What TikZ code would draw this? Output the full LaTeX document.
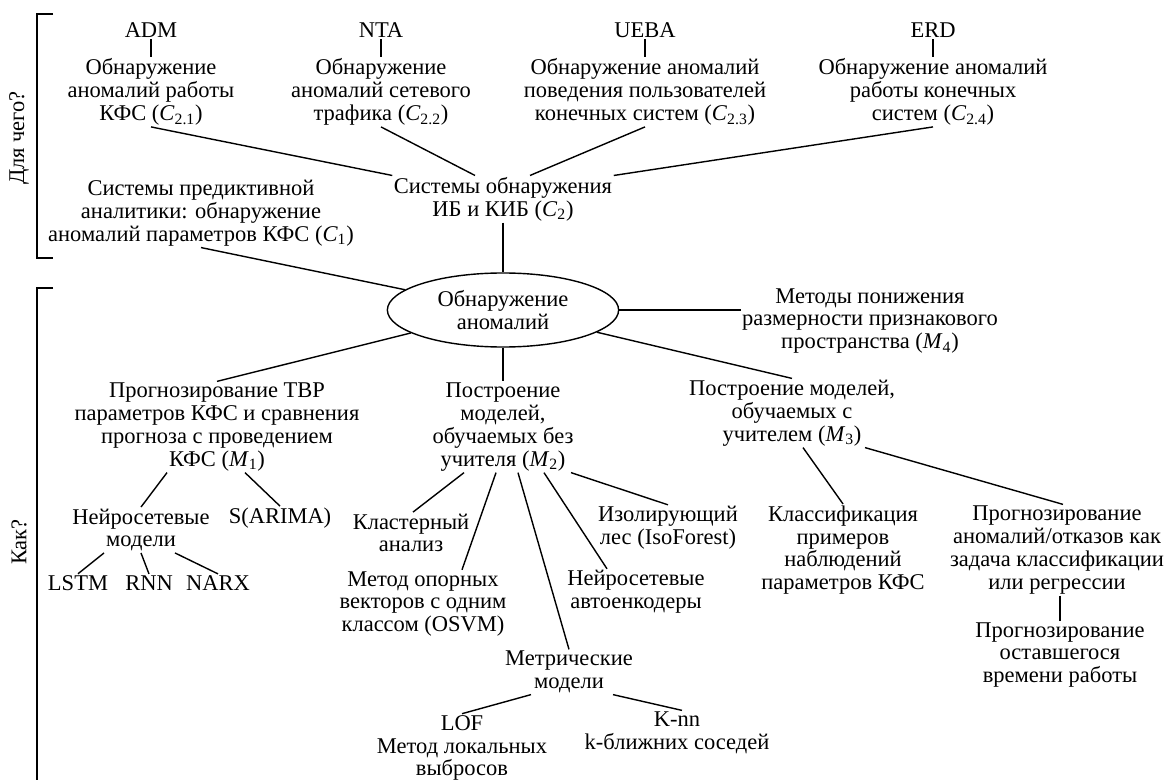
\documentclass[tikz,border=0pt]{standalone}
\usepackage{fontspec}
\setmainfont{Liberation Serif}
\usetikzlibrary{shapes.geometric,calc}
\tikzset{
  txt/.style={
    align=center,
    inner sep=1pt,
    font=\fontsize{16}{16.2}\selectfont,
  },
  hub/.style={
    txt,
    draw,
    ellipse,
    line width=1pt,
    minimum width=5.78cm,
    minimum height=1.85cm,
  },
  link/.style={
    line width=1pt,
  }
}
\newcommand{\cidx}[1]{\textit{C}\textsubscript{#1}}
\newcommand{\midx}[1]{\textit{M}\textsubscript{#1}}

\begin{document}
\begin{tikzpicture}[x=0.025cm,y=-0.025cm]
\useasboundingbox (0,0) rectangle (1168,780);

% brackets on the left
\draw[link] (53,14) -- (37,14) -- (37,258) -- (53,258);
\draw[link] (53,288) -- (37,288) -- (37,780);
\node[txt,rotate=90] (why) at (19,138) {Для чего?};
\node[txt,rotate=90] (how) at (19,542) {Как?};

% what for
\node[txt] (adm)  at (151,30) {ADM};
\node[txt] (nta)  at (381,30) {NTA};
\node[txt] (ueba) at (645,30) {UEBA};
\node[txt] (erd)  at (933,30) {ERD};
\node[txt] (c21) at (151,92) {Обнаружение\\аномалий работы\\КФС (\cidx{2.1})};
\node[txt] (c22) at (381,92) {Обнаружение\\аномалий сетевого\\трафика (\cidx{2.2})};
\node[txt] (c23) at (645,92) {Обнаружение аномалий\\поведения пользователей\\конечных систем (\cidx{2.3})};
\node[txt] (c24) at (933,92) {Обнаружение аномалий\\работы конечных\\систем (\cidx{2.4})};
\node[txt] (c2) at (503,199) {Системы обнаружения\\ИБ и КИБ (\cidx{2})};
\node[txt] (c1) at (201,213) {Системы предиктивной\\аналитики: обнаружение\\аномалий параметров КФС (\cidx{1})};

\node[hub] (anom) at (503,310) {Обнаружение\\аномалий};

% how
\node[txt] (m4) at (870,321) {Методы понижения\\размерности признакового\\пространства (\midx{4})};
\node[txt] (m1) at (217,427) {Прогнозирование ТВР\\параметров КФС и сравнения\\прогноза с проведением\\КФС (\midx{1})};
\node[txt] (m2) at (503,427) {Построение\\моделей,\\обучаемых без\\учителя (\midx{2})};
\node[txt] (m3) at (792,413) {Построение моделей,\\обучаемых с\\учителем (\midx{3})};

\node[txt] (neuro)  at (141,530) {Нейросетевые\\модели};
\node[txt] (sarima) at (280,518) {S(ARIMA)};
\node[txt] (lstm) at (78,583) {LSTM};
\node[txt] (rnn)  at (149,583) {RNN};
\node[txt] (narx) at (218,583) {NARX};

\node[txt] (cluster) at (411,533) {Кластерный\\анализ};
\node[txt] (iso)     at (668,528) {Изолирующий\\лес (IsoForest)};
\node[txt] (osvm)    at (423,604) {Метод опорных\\векторов с одним\\классом (OSVM)};
\node[txt] (autoenc) at (636,592) {Нейросетевые\\автоенкодеры};
\node[txt] (metric)  at (569,672) {Метрические\\модели};
\node[txt] (lof) at (462,748) {LOF\\Метод локальных\\выбросов};
\node[txt] (knn) at (677,733) {K-nn\\k-ближних соседей};

\node[txt] (classif) at (843,550) {Классификация\\примеров\\наблюдений\\параметров КФС};
\node[txt] (fcast)   at (1057,550) {Прогнозирование\\аномалий/отказов как\\задача классификации\\или регрессии};
\node[txt] (rul)     at (1060,655) {Прогнозирование\\оставшегося\\времени работы};

\begin{scope}[link]
\draw (adm) -- (c21);
\draw (nta) -- (c22);
\draw (ueba) -- (c23);
\draw (erd) -- (c24);
\draw (c21.south) -- (c2.north west);
\draw (c22.south) -- ($(c2.north)+(-28,0)$);
\draw (c23.south) -- ($(c2.north)+(27,0)$);
\draw (c24.south) -- (c2.north east);
\draw (c2) -- (anom);
\draw (c1.south) -- (anom);

\draw (anom) -- (anom.east -| m4.west);
\draw (anom) -- (m1.north);
\draw (anom) -- (m2);
\draw (anom) -- (m3.north);

\draw ($(m1.south)+(-50,0)$) -- (neuro.north);
\draw ($(m1.south)+(28,0)$) -- (sarima.north);
\draw ($(neuro.south)+(-37,0)$) -- (lstm.north);
\draw (neuro.south) -- (rnn.north);
\draw ($(neuro.south)+(34,0)$) -- (narx.north);

\draw ($(m2.south)+(-39,0)$) -- ($(cluster.north)+(2,0)$);
\draw ($(m2.south)+(-7,0)$) -- ($(osvm.north)+(39,0)$);
\draw ($(m2.south)+(15,0)$) -- (metric.north);
\draw ($(m2.south)+(41,0)$) -- ($(autoenc.north)+(-29,0)$);
\draw ($(m2.south)+(68,0)$) -- (iso.north);

\draw ($(metric.south)+(-38,0)$) -- (lof.north);
\draw ($(metric.south)+(44,0)$) -- ($(knn.north)+(5,0)$);

\draw ($(m3.south)+(11,0)$) -- (classif.north);
\draw ($(m3.south)+(73,0)$) -- ($(fcast.north)+(6,0)$);
\draw ($(fcast.south)+(3,0)$) -- ($(rul.north)+(0,0)$);
\end{scope}

\end{tikzpicture}
\end{document}
